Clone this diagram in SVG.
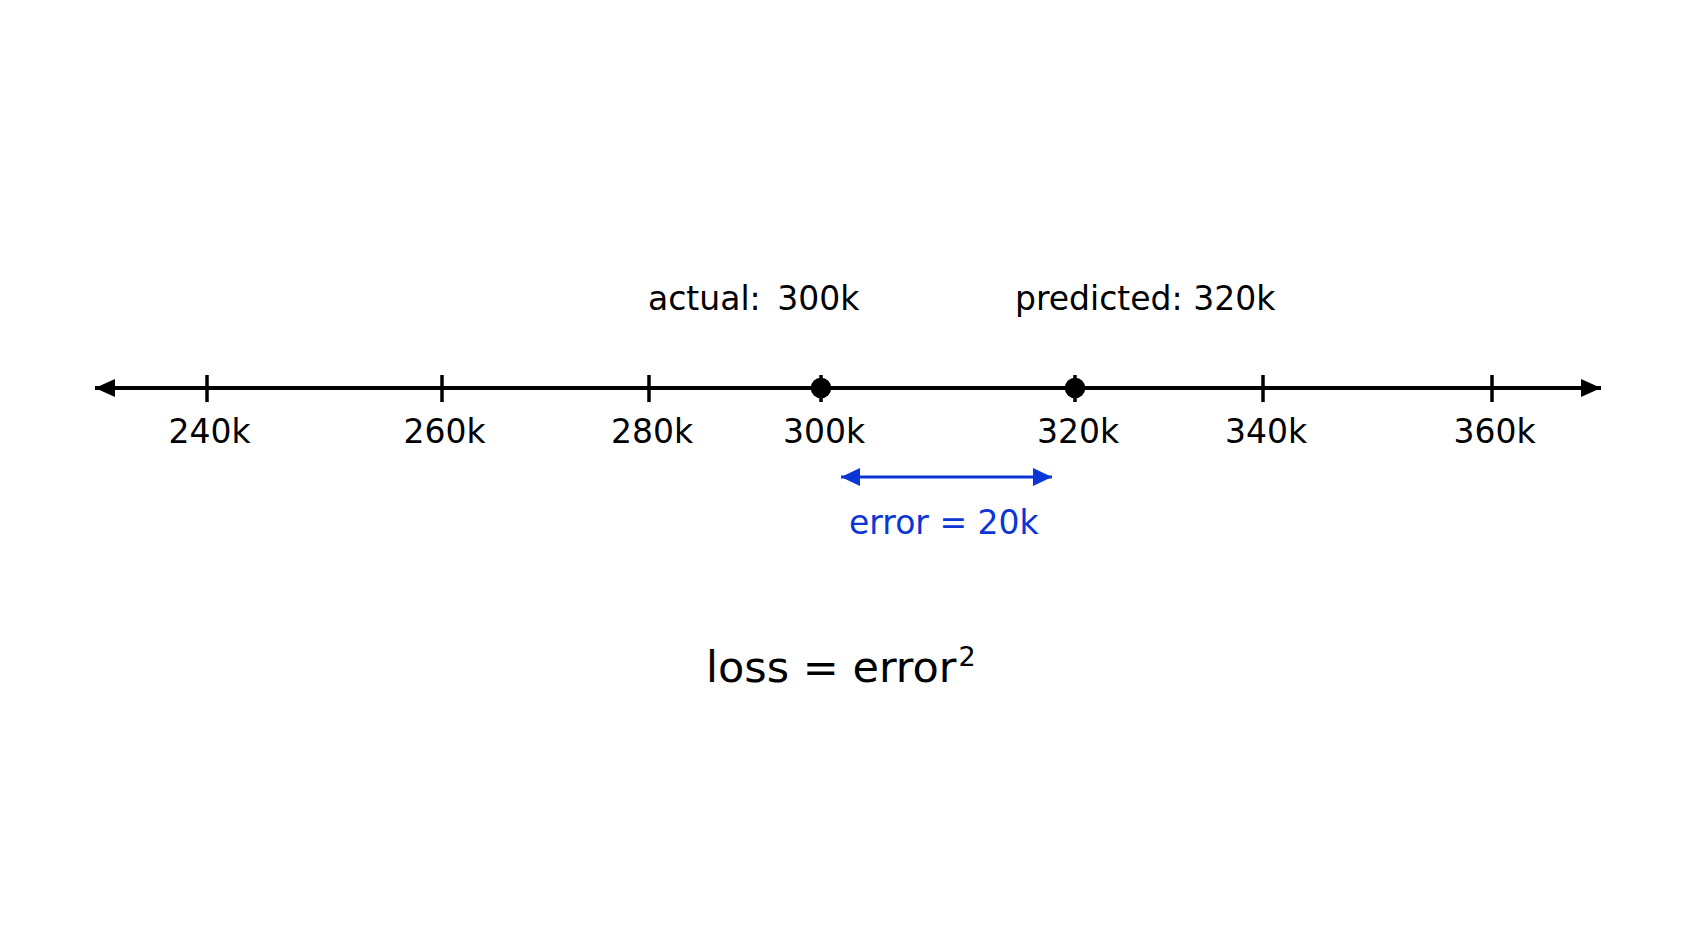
<svg xmlns="http://www.w3.org/2000/svg" width="1693" height="929" viewBox="0 0 1693 929">
<style>
.t{font-family:"DejaVu Sans",Verdana,sans-serif;font-size:33px;fill:#000}
.tick{stroke:#000;stroke-width:3.5}
.axis{stroke:#000;stroke-width:4;fill:none}
.err{stroke:#0b36d6;stroke-width:3;fill:none}
.lbl{text-anchor:middle}
</style>
<defs>
<marker id="ah" viewBox="0 0 20 18" refX="20" refY="9" markerWidth="20" markerHeight="18" markerUnits="userSpaceOnUse" orient="auto-start-reverse">
<path d="M0,0 L20,9 L0,18 Z" fill="#000"/>
</marker>
<marker id="bh" viewBox="0 0 19 18" refX="19" refY="9" markerWidth="19" markerHeight="18" markerUnits="userSpaceOnUse" orient="auto-start-reverse">
<path d="M0,0 L19,9 L0,18 Z" fill="#0b36d6"/>
</marker>
</defs>
<rect width="1693" height="929" fill="#fff"/>
<g id="connectors">
<line class="axis" x1="95" y1="388" x2="1601" y2="388" marker-start="url(#ah)" marker-end="url(#ah)"/>
<line class="err" x1="841" y1="477" x2="1052" y2="477" marker-start="url(#bh)" marker-end="url(#bh)"/>
</g>
<g id="tick-240k"><line class="tick" x1="207" y1="375" x2="207" y2="402"/><text class="t lbl" x="209.5" y="443">240k</text></g>
<g id="tick-260k"><line class="tick" x1="442" y1="375" x2="442" y2="402"/><text class="t lbl" x="444.5" y="443">260k</text></g>
<g id="tick-280k"><line class="tick" x1="649" y1="375" x2="649" y2="402"/><text class="t lbl" x="652" y="443">280k</text></g>
<g id="point-300k"><line class="tick" x1="821" y1="375" x2="821" y2="402"/><circle cx="821" cy="388" r="10.3" fill="#000"/><text class="t lbl" x="824" y="443">300k</text></g>
<g id="point-320k"><line class="tick" x1="1075" y1="375" x2="1075" y2="402"/><circle cx="1075" cy="388" r="10.3" fill="#000"/><text class="t lbl" x="1078" y="443">320k</text></g>
<g id="tick-340k"><line class="tick" x1="1263" y1="375" x2="1263" y2="402"/><text class="t lbl" x="1266" y="443">340k</text></g>
<g id="tick-360k"><line class="tick" x1="1492" y1="375" x2="1492" y2="402"/><text class="t lbl" x="1494.5" y="443">360k</text></g>
<g id="label-actual"><text class="t" x="648" y="310">actual: <tspan dx="6">300k</tspan></text></g>
<g id="label-predicted"><text class="t" x="1015" y="310">predicted: 320k</text></g>
<g id="label-error"><text class="t" x="849" y="534" style="fill:#0b36d6">error = 20k</text></g>
<g id="label-loss"><text class="t" x="706" y="682" style="font-size:43px">loss = error<tspan font-size="27" dx="2" dy="-16">2</tspan></text></g>
</svg>
